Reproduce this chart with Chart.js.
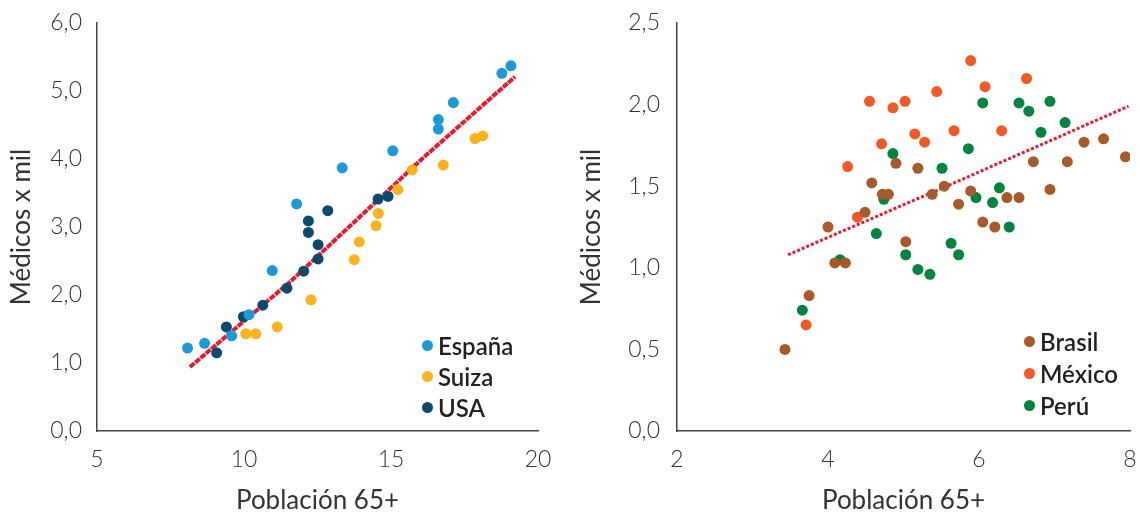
<!DOCTYPE html>
<html lang="es">
<head>
<meta charset="utf-8">
<title>Médicos x mil y Población 65+</title>
<script src="https://cdn.jsdelivr.net/npm/chart.js@4.4.0/dist/chart.umd.min.js"></script>
<style>
  body { margin: 0; background: #fff; font-family: Lato, sans-serif; }
  .panel { position: absolute; top: 0; width: 570px; height: 516px; }
  #left-panel { left: 0; }
  #right-panel { left: 570px; }
  .legend { position: absolute; list-style: none; margin: 0; padding: 0; font: 600 24px Lato, sans-serif; color: #231f20; }
  .legend li { display: flex; align-items: center; }
  .legend .dot { width: 11px; height: 11px; border-radius: 50%; margin-right: 5px; }
  #left-legend { left: 422px; top: 330px; }
  #left-legend li { height: 31px; }
  #right-legend { left: 454px; top: 325px; }
  #right-legend li { height: 32px; }
</style>
</head>
<body>
<div class="panel" id="left-panel">
  <canvas id="left-chart" width="570" height="516"></canvas>
  <ul class="legend" id="left-legend"></ul>
</div>
<div class="panel" id="right-panel">
  <canvas id="right-chart" width="570" height="516"></canvas>
  <ul class="legend" id="right-legend"></ul>
</div>
<script>
// left panel: España, Suiza, USA
const espanaX = [8.08, 8.66, 9.58, 10.17, 10.96, 11.79, 13.34, 15.06, 16.61, 16.61, 17.12, 18.77, 19.08];
const espanaY = [1.22, 1.29, 1.40, 1.71, 2.36, 3.34, 3.87, 4.12, 4.44, 4.58, 4.83, 5.26, 5.37];
const suizaX = [10.06, 10.40, 11.13, 12.28, 13.75, 13.92, 14.49, 14.57, 15.23, 15.72, 16.78, 17.86, 18.12];
const suizaY = [1.43, 1.43, 1.53, 1.93, 2.52, 2.78, 3.02, 3.20, 3.55, 3.84, 3.91, 4.30, 4.34];
const usaX = [9.07, 9.40, 9.98, 10.64, 11.46, 12.03, 12.52, 12.52, 12.19, 12.19, 12.85, 14.56, 14.90];
const usaY = [1.15, 1.53, 1.68, 1.85, 2.10, 2.35, 2.53, 2.74, 2.92, 3.09, 3.24, 3.41, 3.45];
const leftTrendX = [8.16, 11.56, 16.10, 19.22];
const leftTrendY = [0.94, 2.19, 4.02, 5.21];

// right panel: Brasil, México, Perú
const brasilX = [3.43, 3.75, 4.00, 4.09, 4.23, 4.49, 4.58, 4.72, 4.80, 4.90, 5.19, 5.03, 5.38, 5.54, 5.73, 5.89, 6.05, 6.21, 6.37, 6.53, 6.72, 6.94, 7.17, 7.39, 7.65, 7.94];
const brasilY = [0.50, 0.83, 1.25, 1.03, 1.03, 1.34, 1.52, 1.45, 1.45, 1.64, 1.61, 1.16, 1.45, 1.50, 1.39, 1.47, 1.28, 1.25, 1.43, 1.43, 1.65, 1.48, 1.65, 1.77, 1.79, 1.68];
const mexicoX = [3.71, 4.26, 4.39, 4.55, 4.71, 4.86, 5.02, 5.15, 5.28, 5.44, 5.67, 5.89, 6.08, 6.30, 6.63];
const mexicoY = [0.65, 1.62, 1.31, 2.02, 1.76, 1.98, 2.02, 1.82, 1.77, 2.08, 1.84, 2.27, 2.11, 1.84, 2.16];
const peruX = [3.66, 4.16, 4.64, 4.74, 4.86, 5.03, 5.19, 5.35, 5.51, 5.63, 5.73, 5.86, 5.96, 6.05, 6.18, 6.27, 6.40, 6.53, 6.66, 6.82, 6.94, 7.14];
const peruY = [0.74, 1.05, 1.21, 1.42, 1.70, 1.08, 0.99, 0.96, 1.61, 1.15, 1.08, 1.73, 1.43, 2.01, 1.40, 1.49, 1.25, 2.01, 1.96, 1.83, 2.02, 1.89];
const rightTrendX = [3.47, 5.62, 7.98];
const rightTrendY = [1.08, 1.51, 1.99];

const axisTitle = "Médicos x mil";
const xTitle = "Población 65+";

const toPoints = (xs, ys) => xs.map((x, i) => ({ x, y: ys[i] }));
const comma = (v) => v.toFixed(1).replace(".", ",");

function dots(label, xs, ys, color) {
  return {
    label,
    data: toPoints(xs, ys),
    backgroundColor: color,
    borderWidth: 0,
    pointRadius: 5.5,
    pointHoverRadius: 5.5,
    order: 1,
  };
}

function trend(xs, ys, width, dash) {
  return {
    label: "trend",
    data: toPoints(xs, ys),
    showLine: true,
    borderColor: "#e31d2e",
    borderWidth: width,
    borderDash: dash,
    pointRadius: 0,
    order: 2,
  };
}

function makeChart(el, datasets, xr, yr, yWidth, tickPad, padRight) {
  return new Chart(el, {
    type: "scatter",
    data: { datasets },
    options: {
      responsive: false,
      animation: false,
      layout: { padding: { top: 23, right: padRight, left: 0, bottom: 0 } },
      plugins: { legend: { display: false }, tooltip: { enabled: false } },
      scales: {
        x: {
          min: xr[0], max: xr[1],
          grid: { display: false, drawTicks: false },
          border: { display: true, color: "#444", width: 1.5 },
          ticks: { stepSize: xr[2], padding: 15, color: "#333", font: { family: "Lato", size: 23, weight: 300 } },
          title: { display: true, text: xTitle, color: "#333", font: { family: "Lato", size: 26, weight: 400 }, padding: { top: 0, bottom: 0 } },
          afterFit: (s) => { s.height = 85; s.paddingLeft = 0; s.paddingRight = 0; },
        },
        y: {
          min: yr[0], max: yr[1],
          grid: { display: false, drawTicks: false },
          border: { display: true, color: "#444", width: 1.5 },
          ticks: { stepSize: yr[2], padding: tickPad, color: "#333", font: { family: "Lato", size: 23, weight: 300 }, callback: (v) => comma(v) },
          title: { display: true, text: axisTitle, color: "#333", font: { family: "Lato", size: 26, weight: 400 }, padding: { top: 6, bottom: 0 } },
          afterFit: (s) => { s.width = yWidth; s.paddingTop = 0; s.paddingBottom = 0; },
        },
      },
    },
  });
}

function renderLegend(el, datasets) {
  el.innerHTML = "";
  datasets.filter((d) => d.label !== "trend").forEach((d) => {
    el.innerHTML += `<li><span class="dot" style="background:${d.backgroundColor}"></span>${d.label}</li>`;
  });
}

const leftSets = [
  dots("España", espanaX, espanaY, "#1b9ad6"),
  dots("Suiza", suizaX, suizaY, "#fbb31c"),
  dots("USA", usaX, usaY, "#0b4a6e"),
  trend(leftTrendX, leftTrendY, 4, [6, 1]),
];
const rightSets = [
  dots("Brasil", brasilX, brasilY, "#a65b2a"),
  dots("México", mexicoX, mexicoY, "#f15a24"),
  dots("Perú", peruX, peruY, "#00843f"),
  trend(rightTrendX, rightTrendY, 3, [3, 2]),
];

makeChart(document.getElementById("left-chart"), leftSets, [5, 20, 5], [0, 6, 1], 97, 15, 32);
makeChart(document.getElementById("right-chart"), rightSets, [2, 8, 2], [0, 2.5, 0.5], 107, 17, 10);
renderLegend(document.getElementById("left-legend"), leftSets);
renderLegend(document.getElementById("right-legend"), rightSets);
</script>
</body>
</html>
